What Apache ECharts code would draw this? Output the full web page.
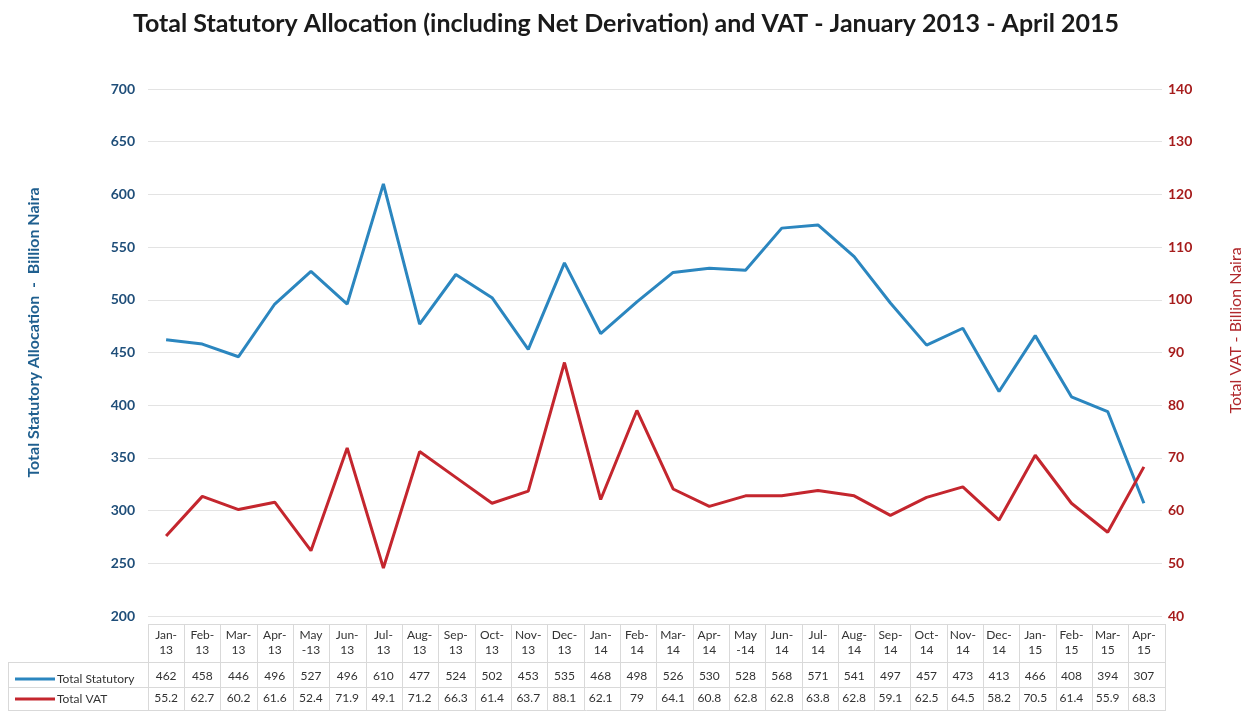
<!DOCTYPE html>
<html><head><meta charset="utf-8">
<script src="https://cdn.jsdelivr.net/npm/echarts@6/dist/echarts.min.js"></script>
<style>html,body{margin:0;padding:0;background:#fff}#c{width:1252px;height:711px}</style>
</head><body><div id="c"></div>
<script>
var monthLabels = ['Jan-\n13','Feb-\n13','Mar-\n13','Apr-\n13','May\n-13','Jun-\n13','Jul-\n13','Aug-\n13','Sep-\n13','Oct-\n13','Nov-\n13','Dec-\n13',
  'Jan-\n14','Feb-\n14','Mar-\n14','Apr-\n14','May\n-14','Jun-\n14','Jul-\n14','Aug-\n14','Sep-\n14','Oct-\n14','Nov-\n14','Dec-\n14',
  'Jan-\n15','Feb-\n15','Mar-\n15','Apr-\n15'];
var statutory = [462,458,446,496,527,496,610,477,524,502,453,535,468,498,526,530,528,568,571,541,497,457,473,413,466,408,394,307];
var vat = [55.2,62.7,60.2,61.6,52.4,71.9,49.1,71.2,66.3,61.4,63.7,88.1,62.1,79,64.1,60.8,62.8,62.8,63.8,62.8,59.1,62.5,64.5,58.2,70.5,61.4,55.9,68.3];
var leftTicks = {min:200, max:700, interval:50};
var rightTicks = {min:40, max:140, interval:10};

var FONT = 'Lato, "Open Sans", sans-serif';
var chart = echarts.init(document.getElementById('c'), null, {renderer:'canvas'});
var GL = 148, GR = 87, GT = 89, GB = 95;
var option = {
  backgroundColor:'#fff',
  animation:false,
  textStyle:{fontFamily:FONT},
  title:{text:'Total Statutory Allocation (including Net Derivation) and VAT - January 2013 - April 2015',
    left:'center', top:6, textStyle:{fontFamily:FONT, fontSize:25, fontWeight:'bold', color:'#1a1a1a'}},
  legend:{orient:'vertical', left:10, top:668, itemGap:8, itemWidth:40, itemHeight:3, icon:'rect',
    textStyle:{fontFamily:FONT, fontSize:12, color:'#333', padding:[0,0,0,-3]},
    data:['Total Statutory','Total VAT']},
  grid:[{left:GL, right:GR, top:GT, bottom:GB},
        {left:GL, right:GR, top:624, height:86}],
  xAxis:[{type:'category', data:monthLabels, boundaryGap:true, gridIndex:0,
      axisLine:{show:false}, axisTick:{show:false},
      axisLabel:{margin:12, interval:0, color:'#333', fontFamily:FONT,
        formatter:function(v, i){
          var p = v.split('\n');
          return '{h|'+p[0]+'}\n{h|'+p[1]+'}\n{sp|}\n{s|'+statutory[i]+'}\n{v|'+vat[i]+'}';
        },
        rich:{h:{fontSize:12, lineHeight:15, color:'#333', fontFamily:FONT},
              sp:{lineHeight:7, fontSize:2},
              s:{fontSize:12, lineHeight:22, color:'#333', fontFamily:FONT},
              v:{fontSize:12, lineHeight:22, color:'#333', fontFamily:FONT}}}},
    {type:'category', data:monthLabels, boundaryGap:true, gridIndex:1,
      axisLine:{show:false}, axisTick:{show:false}, axisLabel:{show:false},
      splitLine:{show:true, lineStyle:{color:'#d9d9d9', width:1}}}],
  yAxis:[{type:'value', min:leftTicks.min, max:leftTicks.max, interval:leftTicks.interval, gridIndex:0,
      name:'Total Statutory Allocation  -  Billion Naira', nameLocation:'middle', nameGap:106, nameRotate:90,
      nameTextStyle:{color:'#1f5f8f', fontWeight:'bold', fontSize:16, fontFamily:FONT, padding:[0,0,0,40]},
      axisLine:{show:false}, axisTick:{show:false},
      axisLabel:{color:'#1f4e79', fontWeight:'bold', fontSize:14, margin:13, fontFamily:FONT},
      splitLine:{lineStyle:{color:'#e3e3e3', width:1}}},
    {type:'value', min:rightTicks.min, max:rightTicks.max, interval:rightTicks.interval, gridIndex:0,
      position:'right',
      name:'Total VAT - Billion Naira', nameLocation:'middle', nameGap:66, nameRotate:90,
      nameTextStyle:{color:'#b0282c', fontSize:16, fontFamily:FONT, padding:[0,0,0,44]},
      axisLine:{show:false}, axisTick:{show:false},
      axisLabel:{color:'#a61c1c', fontWeight:'bold', fontSize:14, margin:6, fontFamily:FONT},
      splitLine:{show:false}},
    {type:'value', gridIndex:1, min:0, max:1, show:false}],
  series:[
    {name:'Total Statutory', type:'line', data:statutory, xAxisIndex:0, yAxisIndex:0,
      showSymbol:false, symbol:'none', lineStyle:{color:'#2b86bf', width:3}, itemStyle:{color:'#2b86bf'}},
    {name:'Total VAT', type:'line', data:vat, xAxisIndex:0, yAxisIndex:1,
      showSymbol:false, symbol:'none', lineStyle:{color:'#c4262e', width:3}, itemStyle:{color:'#c4262e'}}
  ],
  graphic:[
    {type:'line', shape:{x1:GL, y1:624.5, x2:1252-GR, y2:624.5}, style:{stroke:'#d9d9d9', lineWidth:1}},
    {type:'line', shape:{x1:8, y1:662.5, x2:1252-GR, y2:662.5}, style:{stroke:'#d9d9d9', lineWidth:1}},
    {type:'line', shape:{x1:8, y1:687.5, x2:1252-GR, y2:687.5}, style:{stroke:'#d9d9d9', lineWidth:1}},
    {type:'line', shape:{x1:8, y1:710.5, x2:1252-GR, y2:710.5}, style:{stroke:'#d9d9d9', lineWidth:1}},
    {type:'line', shape:{x1:8.5, y1:662, x2:8.5, y2:711}, style:{stroke:'#d9d9d9', lineWidth:1}},
    {type:'line', shape:{x1:GL+0.5, y1:624, x2:GL+0.5, y2:711}, style:{stroke:'#d9d9d9', lineWidth:1}},
    {type:'line', shape:{x1:1252-GR+0.5, y1:624, x2:1252-GR+0.5, y2:711}, style:{stroke:'#d9d9d9', lineWidth:1}}
  ]
};
chart.setOption(option);
</script>
</body></html>
